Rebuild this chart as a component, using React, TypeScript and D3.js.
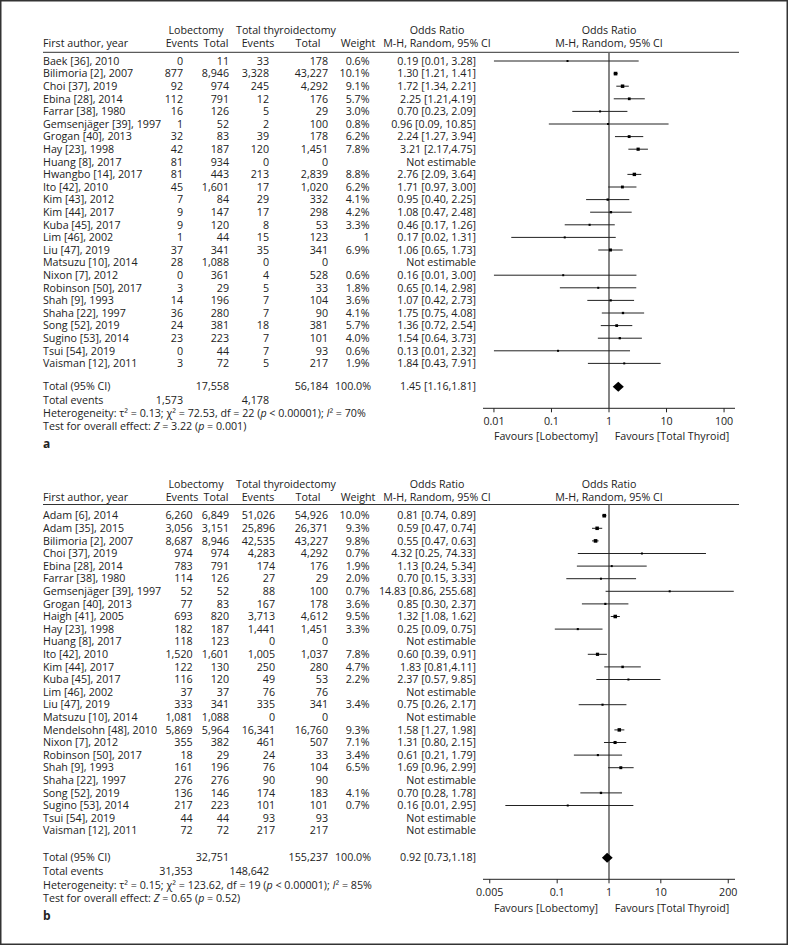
import React from 'react';
import * as d3 from 'd3';

// ---------- Panel a data ----------
const aAuthors = ["Baek [36], 2010", "Bilimoria [2], 2007", "Choi [37], 2019", "Ebina [28], 2014", "Farrar [38], 1980", "Gemsenjäger [39], 1997", "Grogan [40], 2013", "Hay [23], 1998", "Huang [8], 2017", "Hwangbo [14], 2017", "Ito [42], 2010", "Kim [43], 2012", "Kim [44], 2017", "Kuba [45], 2017", "Lim [46], 2002", "Liu [47], 2019", "Matsuzu [10], 2014", "Nixon [7], 2012", "Robinson [50], 2017", "Shah [9], 1993", "Shaha [22], 1997", "Song [52], 2019", "Sugino [53], 2014", "Tsui [54], 2019", "Vaisman [12], 2011"];
const aLobEvents = [0, 877, 92, 112, 16, 1, 32, 42, 81, 81, 45, 7, 9, 9, 1, 37, 28, 0, 3, 14, 36, 24, 23, 0, 3];
const aLobTotal = [11, 8946, 974, 791, 126, 52, 83, 187, 934, 443, 1601, 84, 147, 120, 44, 341, 1088, 361, 29, 196, 280, 381, 223, 44, 72];
const aTtEvents = [33, 3328, 245, 12, 5, 2, 39, 120, 0, 213, 17, 29, 17, 8, 15, 35, 0, 4, 5, 7, 7, 18, 7, 7, 5];
const aTtTotal = [178, 43227, 4292, 176, 29, 100, 178, 1451, 0, 2839, 1020, 332, 298, 53, 123, 341, 0, 528, 33, 104, 90, 381, 101, 93, 217];
const aWeight = ["0.6%", "10.1%", "9.1%", "5.7%", "3.0%", "0.8%", "6.2%", "7.8%", "", "8.8%", "6.2%", "4.1%", "4.2%", "3.3%", "1", "6.9%", "", "0.6%", "1.8%", "3.6%", "4.1%", "5.7%", "4.0%", "0.6%", "1.9%"];
const aOR = [0.19, 1.30, 1.72, 2.25, 0.70, 0.96, 2.24, 3.21, null, 2.76, 1.71, 0.95, 1.08, 0.46, 0.17, 1.06, null, 0.16, 0.65, 1.07, 1.75, 1.36, 1.54, 0.13, 1.84];
const aLow = [0.01, 1.21, 1.34, 1.21, 0.23, 0.09, 1.27, 2.17, null, 2.09, 0.97, 0.40, 0.47, 0.17, 0.02, 0.65, null, 0.01, 0.14, 0.42, 0.75, 0.72, 0.64, 0.01, 0.43];
const aHigh = [3.28, 1.41, 2.21, 4.19, 2.09, 10.85, 3.94, 4.75, null, 3.64, 3.00, 2.25, 2.48, 1.26, 1.31, 1.73, null, 3.00, 2.98, 2.73, 4.08, 2.54, 3.73, 2.32, 7.91];
const aOrLabels = ["0.19 [0.01, 3.28]", "1.30 [1.21, 1.41]", "1.72 [1.34, 2.21]", "2.25 [1.21,4.19]", "0.70 [0.23, 2.09]", "0.96 [0.09, 10.85]", "2.24 [1.27, 3.94]", "3.21 [2.17,4.75]", "Not estimable", "2.76 [2.09, 3.64]", "1.71 [0.97, 3.00]", "0.95 [0.40, 2.25]", "1.08 [0.47, 2.48]", "0.46 [0.17, 1.26]", "0.17 [0.02, 1.31]", "1.06 [0.65, 1.73]", "Not estimable", "0.16 [0.01, 3.00]", "0.65 [0.14, 2.98]", "1.07 [0.42, 2.73]", "1.75 [0.75, 4.08]", "1.36 [0.72, 2.54]", "1.54 [0.64, 3.73]", "0.13 [0.01, 2.32]", "1.84 [0.43, 7.91]"];
const aTotals = { lobTotal: "17,558", ttTotal: "56,184", weight: "100.0%", lobEvents: "1,573", ttEvents: "4,178" };
const aSummary = [1.45, 1.16, 1.81];
const aSummaryLabel = "1.45 [1.16,1.81]";
const aHet = ["0.13", "72.53", "22", "0.00001", "70%"];
const aTest = ["3.22", "0.001"];
const aTicks = [0.01, 0.1, 1, 10, 100];
const aTickLabels = ["0.01", "0.1", "1", "10", "100"];

// ---------- Panel b data ----------
const bAuthors = ["Adam [6], 2014", "Adam [35], 2015", "Bilimoria [2], 2007", "Choi [37], 2019", "Ebina [28], 2014", "Farrar [38], 1980", "Gemsenjäger [39], 1997", "Grogan [40], 2013", "Haigh [41], 2005", "Hay [23], 1998", "Huang [8], 2017", "Ito [42], 2010", "Kim [44], 2017", "Kuba [45], 2017", "Lim [46], 2002", "Liu [47], 2019", "Matsuzu [10], 2014", "Mendelsohn [48], 2010", "Nixon [7], 2012", "Robinson [50], 2017", "Shah [9], 1993", "Shaha [22], 1997", "Song [52], 2019", "Sugino [53], 2014", "Tsui [54], 2019", "Vaisman [12], 2011"];
const bLobEvents = [6260, 3056, 8687, 974, 783, 114, 52, 77, 693, 182, 118, 1520, 122, 116, 37, 333, 1081, 5869, 355, 18, 161, 276, 136, 217, 44, 72];
const bLobTotal = [6849, 3151, 8946, 974, 791, 126, 52, 83, 820, 187, 123, 1601, 130, 120, 37, 341, 1088, 5964, 382, 29, 196, 276, 146, 223, 44, 72];
const bTtEvents = [51026, 25896, 42535, 4283, 174, 27, 88, 167, 3713, 1441, 0, 1005, 250, 49, 76, 335, 0, 16341, 461, 24, 76, 90, 174, 101, 93, 217];
const bTtTotal = [54926, 26371, 43227, 4292, 176, 29, 100, 178, 4612, 1451, 0, 1037, 280, 53, 76, 341, 0, 16760, 507, 33, 104, 90, 183, 101, 93, 217];
const bWeight = ["10.0%", "9.3%", "9.8%", "0.7%", "1.9%", "2.0%", "0.7%", "3.6%", "9.5%", "3.3%", "", "7.8%", "4.7%", "2.2%", "", "3.4%", "", "9.3%", "7.1%", "3.4%", "6.5%", "", "4.1%", "0.7%", "", ""];
const bOR = [0.81, 0.59, 0.55, 4.32, 1.13, 0.70, 14.83, 0.85, 1.32, 0.25, null, 0.60, 1.83, 2.37, null, 0.75, null, 1.58, 1.31, 0.61, 1.69, null, 0.70, 0.16, null, null];
const bLow = [0.74, 0.47, 0.47, 0.25, 0.24, 0.15, 0.86, 0.30, 1.08, 0.09, null, 0.39, 0.81, 0.57, null, 0.26, null, 1.27, 0.80, 0.21, 0.96, null, 0.28, 0.01, null, null];
const bHigh = [0.89, 0.74, 0.63, 74.33, 5.34, 3.33, 255.68, 2.37, 1.62, 0.75, null, 0.91, 4.11, 9.85, null, 2.17, null, 1.98, 2.15, 1.79, 2.99, null, 1.78, 2.95, null, null];
const bOrLabels = ["0.81 [0.74, 0.89]", "0.59 [0.47, 0.74]", "0.55 [0.47, 0.63]", "4.32 [0.25, 74.33]", "1.13 [0.24, 5.34]", "0.70 [0.15, 3.33]", "14.83 [0.86, 255.68]", "0.85 [0.30, 2.37]", "1.32 [1.08, 1.62]", "0.25 [0.09, 0.75]", "Not estimable", "0.60 [0.39, 0.91]", "1.83 [0.81,4.11]", "2.37 [0.57, 9.85]", "Not estimable", "0.75 [0.26, 2.17]", "Not estimable", "1.58 [1.27, 1.98]", "1.31 [0.80, 2.15]", "0.61 [0.21, 1.79]", "1.69 [0.96, 2.99]", "Not estimable", "0.70 [0.28, 1.78]", "0.16 [0.01, 2.95]", "Not estimable", "Not estimable"];
const bTotals = { lobTotal: "32,751", ttTotal: "155,237", weight: "100.0%", lobEvents: "31,353", ttEvents: "148,642" };
const bSummary = [0.92, 0.73, 1.18];
const bSummaryLabel = "0.92 [0.73,1.18]";
const bHet = ["0.15", "123.62", "19", "0.00001", "85%"];
const bTest = ["0.65", "0.52"];
const bTicks = [0.005, 0.1, 1, 10, 200];
const bTickLabels = ["0.005", "0.1", "1", "10", "200"];

const FONT = "'Open Sans', 'DejaVu Sans', sans-serif";
const FS = 10.7;
const TXT = "#222";
const fmt = d3.format(",");

type PanelProps = {
  letter: string;
  authors: string[]; lobEv: number[]; lobTot: number[]; ttEv: number[]; ttTot: number[];
  weight: string[]; or: (number | null)[]; lo: (number | null)[]; hi: (number | null)[];
  orLabels: string[]; totals: any; summary: number[]; summaryLabel: string;
  het: string[]; test: string[]; ticks: number[]; tickLabels: string[]; domainHalf: number;
  L: any;
};

function T({ x, y, anchor = "start", children, bold = false, size = FS }: any) {
  return (
    <text x={x} y={y} dy="0.35em" textAnchor={anchor} fontFamily={FONT} fontSize={size}
      fontWeight={bold ? 700 : 400} fill={TXT}>{children}</text>
  );
}

function Panel(p: PanelProps) {
  const L = p.L;
  const x = d3.scaleLog().domain([1 / p.domainHalf, p.domainHalf]).range([483, 735]);
  const rowY = (i: number) => L.row0 + i * 12.6;
  const sq = (w: string) => {
    const v = parseFloat(w);
    return Math.max(2, 1.15 * Math.sqrt(isNaN(v) ? 0 : v));
  };
  const [sOr, sLo, sHi] = p.summary;
  const sy = L.totalY;
  const diamond = d3.line()([[x(sLo), sy], [x(sOr), sy - 5], [x(sHi), sy], [x(sOr), sy + 5]]) + "Z";
  const clip = (v: number) => Math.max(x.range()[0], Math.min(x.range()[1], x(v)));
  return (
    <g>
      {/* headers */}
      <T x={196} y={L.h1}  anchor="middle">Lobectomy</T>
      <T x={286} y={L.h1} anchor="middle">Total thyroidectomy</T>
      <T x={437} y={L.h1} anchor="middle">Odds Ratio</T>
      <T x={609} y={L.h1} anchor="middle">Odds Ratio</T>
      <T x={43} y={L.h2}>First author, year</T>
      <T x={182} y={L.h2} anchor="middle">Events</T>
      <T x={216} y={L.h2} anchor="middle">Total</T>
      <T x={258} y={L.h2} anchor="middle">Events</T>
      <T x={308} y={L.h2} anchor="middle">Total</T>
      <T x={358} y={L.h2} anchor="middle">Weight</T>
      <T x={437} y={L.h2} anchor="middle">M-H, Random, 95% CI</T>
      <T x={609} y={L.h2} anchor="middle">M-H, Random, 95% CI</T>
      <line x1={43} x2={739} y1={L.line} y2={L.line} stroke="#333" strokeWidth={1} />
      {/* null line */}
      <line x1={x(1)} x2={x(1)} y1={L.line} y2={L.axisY} stroke="#666" strokeWidth={1.6} />
      {/* rows */}
      {p.authors.map((a, i) => {
        const y = rowY(i);
        const o = p.or[i], lo = p.lo[i], hi = p.hi[i];
        const s = sq(p.weight[i]);
        return (
          <g key={i}>
            <T x={43} y={y}>{a}</T>
            <T x={L.c1} y={y} anchor="end">{fmt(p.lobEv[i])}</T>
            <T x={229} y={y} anchor="end">{fmt(p.lobTot[i])}</T>
            <T x={L.c3} y={y} anchor="end">{fmt(p.ttEv[i])}</T>
            <T x={328} y={y} anchor="end">{fmt(p.ttTot[i])}</T>
            <T x={369.5} y={y} anchor="end">{p.weight[i]}</T>
            <T x={476} y={y} anchor="end">{p.orLabels[i]}</T>
            {o != null && lo != null && hi != null && (
              <g>
                <line x1={clip(lo)} x2={clip(hi)} y1={y} y2={y} stroke="#222" strokeWidth={1} />
                <rect x={x(o) - s / 2} y={y - s / 2} width={s} height={s} fill="#000" />
              </g>
            )}
          </g>
        );
      })}
      {/* totals */}
      <T x={43} y={L.totalY}>Total (95% CI)</T>
      <T x={229} y={L.totalY} anchor="end">{p.totals.lobTotal}</T>
      <T x={328} y={L.totalY} anchor="end">{p.totals.ttTotal}</T>
      <T x={371} y={L.totalY} anchor="end">{p.totals.weight}</T>
      <T x={476} y={L.totalY} anchor="end">{p.summaryLabel}</T>
      <path d={diamond} fill="#000" />
      <T x={43} y={L.evY}>Total events</T>
      <T x={L.c1} y={L.evY} anchor="end">{p.totals.lobEvents}</T>
      <T x={269} y={L.evY} anchor="end">{p.totals.ttEvents}</T>
      <text x={43} y={L.hetY} dy="0.35em" fontFamily={FONT} fontSize={FS} fill={TXT}>
        {`Heterogeneity: τ² = ${p.het[0]}; χ² = ${p.het[1]}, df = ${p.het[2]} (`}
        <tspan fontStyle="italic">p</tspan>
        {` < ${p.het[3]}); `}
        <tspan fontStyle="italic">I</tspan>
        {`² = ${p.het[4]}`}
      </text>
      <text x={43} y={L.testY} dy="0.35em" fontFamily={FONT} fontSize={FS} fill={TXT}>
        {"Test for overall effect: "}
        <tspan fontStyle="italic">Z</tspan>
        {` = ${p.test[0]} (`}
        <tspan fontStyle="italic">p</tspan>
        {` = ${p.test[1]})`}
      </text>
      <T x={43} y={L.letterY} bold size={12}>{p.letter}</T>
      {/* axis */}
      <line x1={x.range()[0]} x2={x.range()[1]} y1={L.axisY} y2={L.axisY} stroke="#222" strokeWidth={1} />
      {p.ticks.map((t, i) => (
        <g key={t}>
          <line x1={x(t)} x2={x(t)} y1={L.axisY} y2={L.axisY + 4} stroke="#222" strokeWidth={1} />
          <T x={x(t)} y={L.tickY} anchor="middle">{p.tickLabels[i]}</T>
        </g>
      ))}
      <T x={546} y={L.favY} anchor="middle">Favours [Lobectomy]</T>
      <T x={672} y={L.favY} anchor="middle">Favours [Total Thyroid]</T>
    </g>
  );
}

const layoutA = { h1: 30, h2: 43.3, line: 52.3, row0: 61, totalY: 386.7, evY: 400, hetY: 413.3, testY: 426.7, letterY: 444, axisY: 408.3, tickY: 421.7, favY: 436.7, c1: 183, c3: 269 };
const layoutB = { h1: 484, h2: 497.3, line: 504.5, row0: 515.7, totalY: 857.7, evY: 871.7, hetY: 885, testY: 898.3, letterY: 916, axisY: 879.3, tickY: 892.3, favY: 908.3, c1: 192.7, c3: 275 };

export default function App() {
  return (
    <svg width={788} height={945} style={{ position: 'absolute', left: 0, top: 0, background: '#fff' }}>
      <rect x={0.75} y={0.75} width={786.5} height={943.5} fill="#fff" stroke="#333" strokeWidth={1.5} />
      <Panel letter="a" authors={aAuthors} lobEv={aLobEvents} lobTot={aLobTotal} ttEv={aTtEvents} ttTot={aTtTotal}
        weight={aWeight} or={aOR} lo={aLow} hi={aHigh} orLabels={aOrLabels} totals={aTotals}
        summary={aSummary} summaryLabel={aSummaryLabel} het={aHet} test={aTest}
        ticks={aTicks} tickLabels={aTickLabels} domainHalf={155} L={layoutA} />
      <Panel letter="b" authors={bAuthors} lobEv={bLobEvents} lobTot={bLobTotal} ttEv={bTtEvents} ttTot={bTtTotal}
        weight={bWeight} or={bOR} lo={bLow} hi={bHigh} orLabels={bOrLabels} totals={bTotals}
        summary={bSummary} summaryLabel={bSummaryLabel} het={bHet} test={bTest}
        ticks={bTicks} tickLabels={bTickLabels} domainHalf={270} L={layoutB} />
    </svg>
  );
}
